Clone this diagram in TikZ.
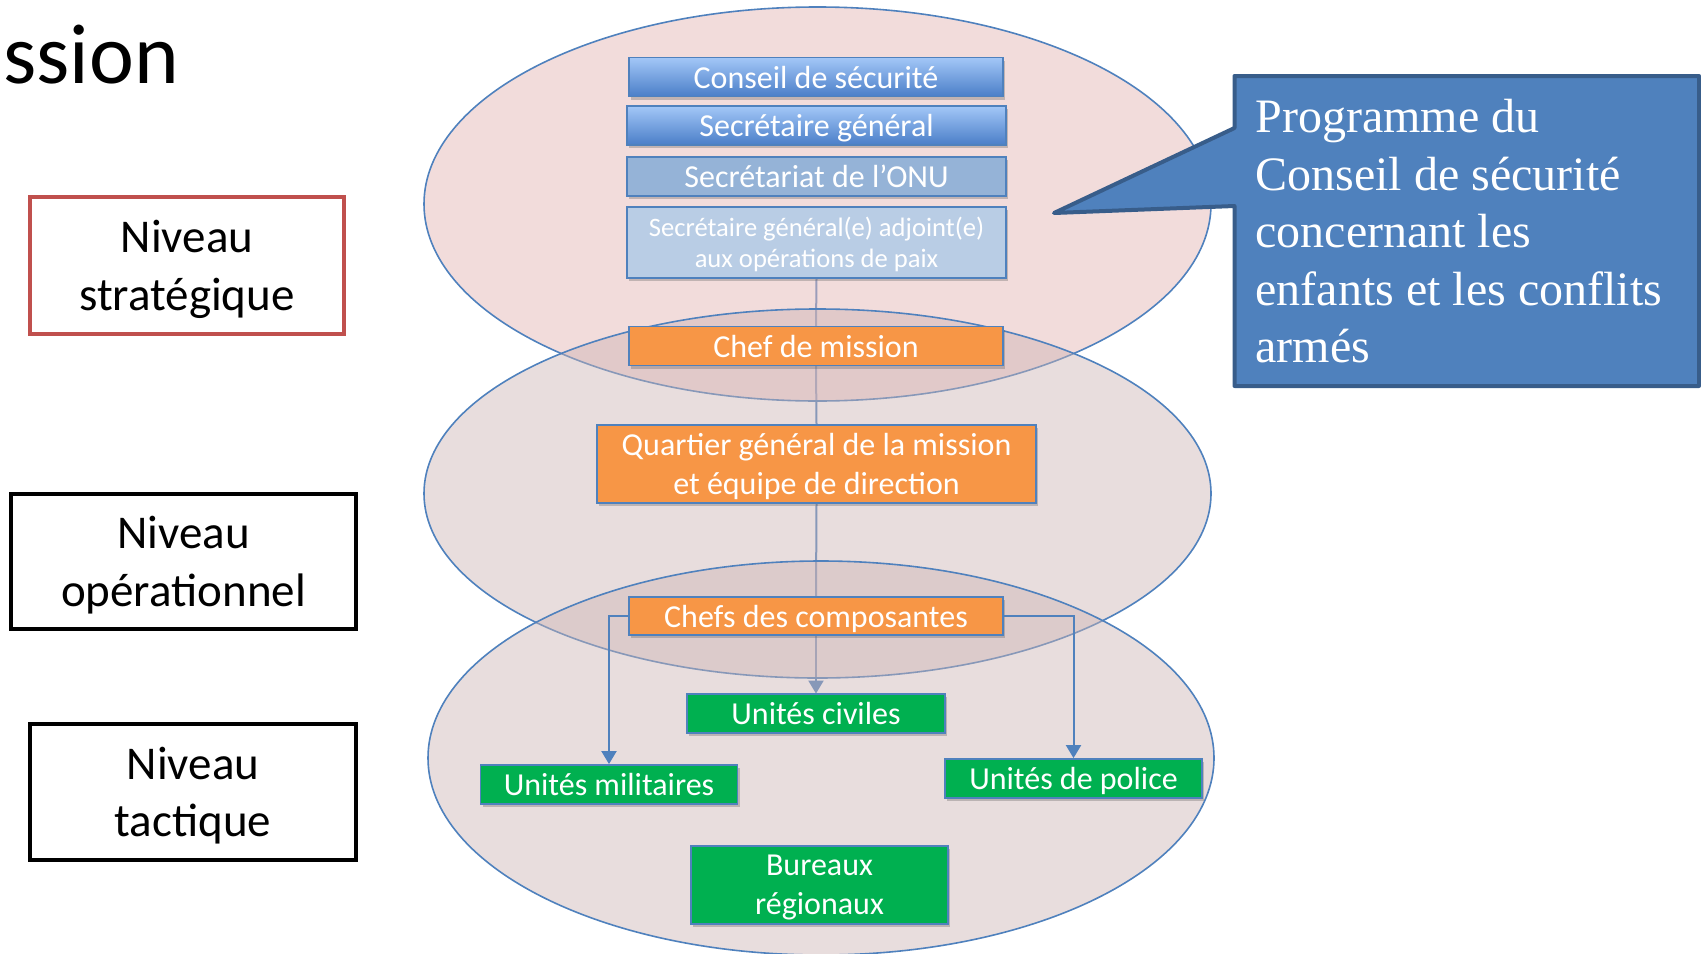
\documentclass[tikz,border=0pt]{standalone}
\usepackage{fontspec}
\setmainfont{Carlito}
\newfontfamily\tnr{Liberation Serif}
\usetikzlibrary{arrows.meta,shadows}
\definecolor{bord}{HTML}{4F81BD}
\definecolor{orng}{HTML}{F79646}
\definecolor{grn}{HTML}{00B050}
\definecolor{lbone}{HTML}{95B3D7}
\definecolor{lbtwo}{HTML}{B9CDE5}
\definecolor{gtop}{HTML}{A3C7F7}
\definecolor{gbot}{HTML}{4A7EC8}
\definecolor{redb}{HTML}{C0504D}
\definecolor{calfill}{HTML}{4F81BD}
\definecolor{caldraw}{HTML}{385D8A}
\definecolor{elltop}{HTML}{E6B9B8}
\definecolor{ellmid}{HTML}{CDB4B4}
\begin{document}
\begin{tikzpicture}[x=0.5pt,y=-0.5pt,
  box/.style={draw=bord, line width=0.9pt, text=white, align=center, inner sep=0pt,
    text depth=0pt,
    font=\fontsize{16}{19.5}\selectfont,
    drop shadow={shadow xshift=1pt,shadow yshift=-1.5pt,opacity=0.35,fill=black!60}},
  gradbox/.style={box, top color=gtop, bottom color=gbot},
  orbox/.style={box, fill=orng},
  grbox/.style={box, fill=grn},
  level/.style={draw, line width=2pt, fill=white, align=center, inner sep=0pt,
    text depth=0pt,
    font=\fontsize{23.5}{28.75}\selectfont},
  conn/.style={draw=bord, line width=1pt},
  tip/.style={-{Triangle[width=7.5pt,length=6.5pt]}},
  ell/.style={draw=bord, line width=0.8pt, fill opacity=0.5}
]
\useasboundingbox (0,0) rectangle (1701,953);

% title fragment
\node[anchor=base west, inner sep=0pt, font=\fontsize{42.5}{50}\selectfont] (title) at (3,83.5) {ssion};

% box positions
\path
  (816,77)    coordinate (pcs)
  (816.5,125.5) coordinate (psg)
  (816.5,176.5) coordinate (ponu)
  (816.5,242.5) coordinate (psga)
  (816,346)   coordinate (pcm)
  (816.5,464) coordinate (pqg)
  (816,616)   coordinate (pcc)
  (816,713.5) coordinate (pciv)
  (609,784.5) coordinate (pmil)
  (1073.5,778.5) coordinate (ppol)
  (819.5,885) coordinate (pbur);

% placeholder nodes so that the vertical connectors lie behind the ellipses
\node[minimum width=189.5pt, minimum height=35.5pt, inner sep=0pt] (sgaph) at (psga) {};
\node[minimum width=187pt, minimum height=19.5pt, inner sep=0pt] (cmph) at (pcm) {};
\node[minimum width=219.5pt, minimum height=39pt, inner sep=0pt] (qgph) at (pqg) {};
\node[minimum width=187pt, minimum height=19pt, inner sep=0pt] (ccph) at (pcc) {};
\node[minimum width=129pt, minimum height=19.5pt, inner sep=0pt] (civph) at (pciv) {};

\draw[conn] (sgaph.south) -- (cmph.north);
\draw[conn] (cmph.south) -- (qgph.north);
\draw[conn] (qgph.south) -- (ccph.north);
\draw[conn,tip] (ccph.south) -- (civph.north);

% ellipses
\draw[ell, fill=elltop] (817.5,204) ellipse [x radius=196.75pt, y radius=98.5pt];
\draw[ell, fill=ellmid, fill opacity=0.45] (817.5,493.5) ellipse [x radius=196.75pt, y radius=92.25pt];
\draw[ell, fill=ellmid, fill opacity=0.45] (821,758) ellipse [x radius=196.5pt, y radius=98.5pt];

% boxes
\node[gradbox, minimum width=187pt, minimum height=19.5pt] (cs) at (pcs) {Conseil de sécurité};
\node[gradbox, minimum width=189.5pt, minimum height=19.5pt] (sg) at (psg) {Secrétaire général};
\node[box, fill=lbone, minimum width=189.5pt, minimum height=19.5pt] (onu) at (ponu) {Secrétariat de l’ONU};
\node[box, fill=lbtwo, minimum width=189.5pt, minimum height=35.5pt,
      font=\fontsize{13.3}{15.7}\selectfont] (sga) at (psga) {Secrétaire général(e) adjoint(e)\\aux opérations de paix};
\node[orbox, minimum width=187pt, minimum height=19.5pt] (cm) at (pcm) {Chef de mission};
\node[orbox, minimum width=219.5pt, minimum height=39pt] (qg) at (pqg) {Quartier général de la mission\\et équipe de direction};
\node[orbox, minimum width=187pt, minimum height=19pt] (cc) at (pcc) {Chefs des composantes};
\node[grbox, minimum width=129pt, minimum height=19.5pt] (civ) at (pciv) {Unités civiles};
\node[grbox, minimum width=128.5pt, minimum height=19.5pt] (mil) at (pmil) {Unités militaires};
\node[grbox, minimum width=128.5pt, minimum height=19.5pt] (pol) at (ppol) {Unités de police};
\node[grbox, minimum width=128.5pt, minimum height=39pt] (bur) at (pbur) {Bureaux\\régionaux};

% side arrows
\draw[conn,tip] (cc.west) -| (mil.north);
\draw[conn,tip] (cc.east) -| (pol.north);

% level boxes
\node[level, draw=redb, minimum width=157pt, minimum height=68.5pt] (strat) at (187,265.5) {Niveau\\stratégique};
\node[level, draw=black, minimum width=172.5pt, minimum height=67.5pt] (oper) at (183.5,561.5) {Niveau\\opérationnel};
\node[level, draw=black, minimum width=163pt, minimum height=68pt] (tact) at (193,792) {Niveau\\tactique};

% callout
\draw[fill=calfill, draw=caldraw, line width=2pt, line join=round]
  (1234.5,76) -- (1699,76) -- (1699,386) -- (1234.5,386) -- (1234.5,206)
  -- (1054,213) -- (1234.5,128) -- cycle;
\node[anchor=north west, inner sep=0pt, align=left, text=white,
      font=\tnr\fontsize{24}{28.75}\selectfont] (callout) at (1255,99)
  {Programme du\\Conseil de sécurité\\concernant les\\enfants et les conflits\\armés};
\end{tikzpicture}
\end{document}
